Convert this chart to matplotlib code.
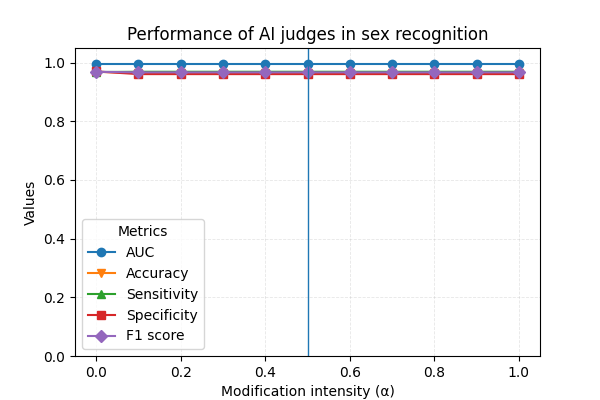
import matplotlib
matplotlib.use('Agg')
import matplotlib.pyplot as plt
import numpy as np

alpha = [0.0, 0.1, 0.2, 0.3, 0.4, 0.5, 0.6, 0.7, 0.8, 0.9, 1.0]
auc = [0.996, 0.996, 0.996, 0.996, 0.996, 0.996, 0.996, 0.996, 0.996, 0.996, 0.996]
accuracy = [0.969, 0.965, 0.965, 0.965, 0.965, 0.965, 0.965, 0.965, 0.965, 0.965, 0.965]
sensitivity = [0.968, 0.969, 0.969, 0.969, 0.969, 0.969, 0.969, 0.969, 0.969, 0.969, 0.969]
specificity = [0.970, 0.961, 0.961, 0.961, 0.961, 0.961, 0.961, 0.961, 0.961, 0.961, 0.961]
f1 = [0.969, 0.967, 0.967, 0.967, 0.967, 0.967, 0.967, 0.967, 0.967, 0.967, 0.967]

fig, ax = plt.subplots(figsize=(6, 4), dpi=100)
ax.plot(alpha, auc, marker='o', label='AUC')
ax.plot(alpha, accuracy, marker='v', label='Accuracy')
ax.plot(alpha, sensitivity, marker='^', label='Sensitivity')
ax.plot(alpha, specificity, marker='s', label='Specificity')
ax.plot(alpha, f1, marker='D', label='F1 score')
ax.axvline(0.5, color='C0', linewidth=1)
ax.set_ylim(0, 1.05)
ax.set_xlabel('Modification intensity (α)')
ax.set_ylabel('Values')
ax.set_title('Performance of AI judges in sex recognition')
ax.grid(True, linestyle='--', alpha=0.3, linewidth=0.6)
ax.legend(title='Metrics', loc='lower left')
fig.savefig('out.png')
